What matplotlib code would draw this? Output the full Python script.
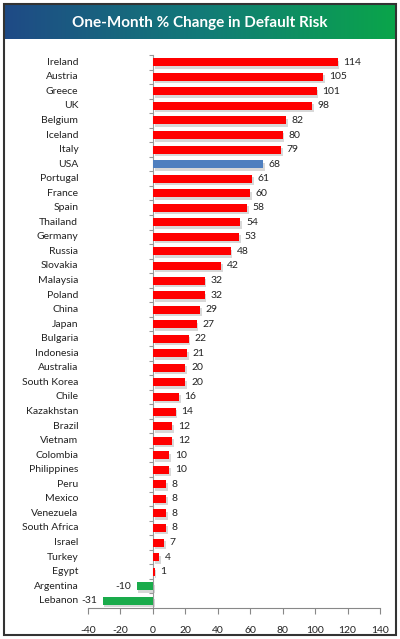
import numpy as np
import matplotlib.pyplot as plt
import matplotlib.patheffects as pe
from matplotlib.colors import LinearSegmentedColormap
from matplotlib.patches import Rectangle

plt.rcParams['font.family'] = ['Lato', 'DejaVu Sans']
plt.rcParams['axes.unicode_minus'] = False

# data, top to bottom
countries = ['Ireland', 'Austria', 'Greece', 'UK', 'Belgium', 'Iceland', 'Italy', 'USA',
             'Portugal', 'France', 'Spain', 'Thailand', 'Germany', 'Russia', 'Slovakia',
             'Malaysia', 'Poland', 'China', 'Japan', 'Bulgaria', 'Indonesia', 'Australia',
             'South Korea', 'Chile', 'Kazakhstan', 'Brazil', 'Vietnam', 'Colombia',
             'Philippines', 'Peru', 'Mexico', 'Venezuela', 'South Africa', 'Israel',
             'Turkey', 'Egypt', 'Argentina', 'Lebanon']
changes = [114, 105, 101, 98, 82, 80, 79, 68, 61, 60, 58, 54, 53, 48, 42, 32, 32, 29, 27,
           22, 21, 20, 20, 16, 14, 12, 12, 10, 10, 8, 8, 8, 8, 7, 4, 1, -10, -31]
highlight = 'USA'
xticks = [-40, -20, 0, 20, 40, 60, 80, 100, 120, 140]

RED = '#ff0000'
BLUE = '#4f7fbf'
GREEN = '#1aab4b'

fig = plt.figure(figsize=(4.0, 6.39), dpi=100)

# title banner with blue -> green gradient
bax = fig.add_axes([0.01, 0.939, 0.98, 0.053])
cmap = LinearSegmentedColormap.from_list('banner', ['#1f4a86', '#127a78', '#0aa54a'])
bax.imshow(np.linspace(0, 1, 256).reshape(1, -1), aspect='auto', cmap=cmap,
           extent=[0, 1, 0, 1])
bax.set_axis_off()
bax.text(0.5, 0.48, 'One-Month % Change in Default Risk', color='white',
         fontsize=11, fontweight='bold', ha='center', va='center')

# outer frame
fig.patches.append(Rectangle((0.009, 0.006), 0.982, 0.987, transform=fig.transFigure,
                             fill=False, edgecolor='#333333', linewidth=1.5))

ax = fig.add_axes([0.22, 0.0485, 0.73, 0.8655])
y = np.arange(len(countries))
colors = [BLUE if c == highlight else (GREEN if v < 0 else RED)
          for c, v in zip(countries, changes)]
bars = ax.barh(y, changes, height=0.55, color=colors, zorder=3)
for b in bars:
    b.set_path_effects([pe.SimplePatchShadow(offset=(1.2, -1.8), shadow_rgbFace='#aaaaaa',
                                             alpha=0.45), pe.Normal()])

for yi, v in zip(y, changes):
    if v >= 0:
        ax.text(v + 3.5, yi, str(v), ha='left', va='center', fontsize=7.5, color='#222222')
    else:
        ax.text(v - 3.5, yi, str(v), ha='right', va='center', fontsize=7.5, color='#222222')

ax.set_xlim(-40, 140)
ax.set_ylim(len(countries) - 0.5, -0.5)
ax.set_xticks(xticks)
ax.tick_params(axis='x', labelsize=7.5, length=4, pad=9, colors='#888888',
               labelcolor='#222222')

ax.spines['top'].set_visible(False)
ax.spines['right'].set_visible(False)
ax.spines['left'].set_position(('data', 0))
ax.spines['left'].set_color('#999999')
ax.spines['bottom'].set_color('#888888')
ax.set_yticks(np.arange(len(countries) + 1) - 0.5)
ax.set_yticklabels([])
ax.tick_params(axis='y', length=3, color='#999999', direction='out')

# category labels left of the plot area
for yi, c in zip(y, countries):
    ax.text(-46, yi, c, ha='right', va='center', fontsize=7.5, color='#222222')

fig.savefig('out.png', dpi=100)
